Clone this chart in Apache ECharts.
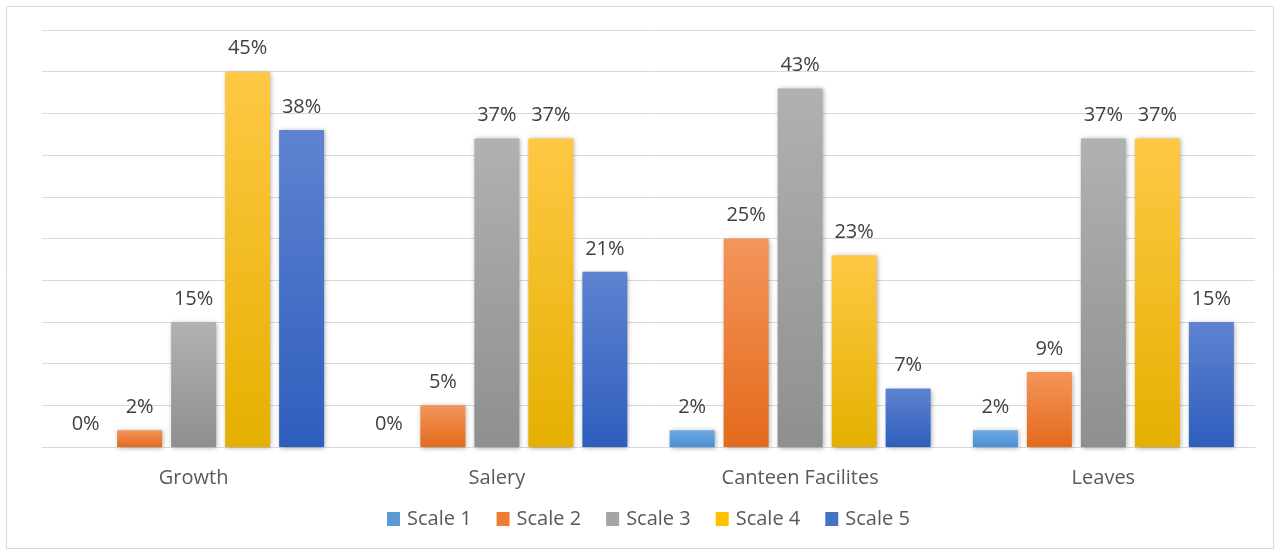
<!DOCTYPE html>
<html>
<head>
<meta charset="utf-8">
<style>
  html, body { margin: 0; padding: 0; background: #ffffff; }
  #chart { width: 1281px; height: 554px; }
</style>
<script src="https://cdn.jsdelivr.net/npm/echarts@6/dist/echarts.min.js"></script>
</head>
<body>
<div id="chart"></div>
<script>
// Survey categories and the share of answers on each scale (percent)
const categories = ['Growth', 'Salery', 'Canteen Facilites', 'Leaves'];
const seriesNames = ['Scale 1', 'Scale 2', 'Scale 3', 'Scale 4', 'Scale 5'];
const scale1 = [0, 0, 2, 2];
const scale2 = [2, 5, 25, 9];
const scale3 = [15, 37, 43, 37];
const scale4 = [45, 37, 23, 37];
const scale5 = [38, 21, 7, 15];
const seriesValues = [scale1, scale2, scale3, scale4, scale5];

// Top and bottom colours of each bar gradient
const gradientStops = [
  ['#6fa9e2', '#4a8ed6'],
  ['#f4955a', '#e36a1c'],
  ['#b1b1b1', '#8f8f8f'],
  ['#ffc845', '#e5b000'],
  ['#5e83d0', '#2e5ebd']
];
// Flat colours for the legend squares
const legendColors = ['#5b9bd5', '#ed7d31', '#a5a5a5', '#ffc000', '#4472c4'];

const fontFamily = '"Open Sans", "Noto Sans", sans-serif';

const chart = echarts.init(document.getElementById('chart'));

const series = seriesNames.map((name, i) => ({
  name: name,
  type: 'bar',
  data: seriesValues[i],
  barWidth: 45,
  barGap: '20%',
  itemStyle: {
    color: new echarts.graphic.LinearGradient(0, 0, 0, 1, [
      { offset: 0, color: gradientStops[i][0] },
      { offset: 1, color: gradientStops[i][1] }
    ]),
    shadowColor: 'rgba(0,0,0,0.35)',
    shadowBlur: 5,
    shadowOffsetX: 1,
    shadowOffsetY: 1
  },
  label: {
    show: true,
    position: 'top',
    distance: 13,
    formatter: '{c}%',
    color: '#404040',
    fontSize: 20,
    fontFamily: fontFamily
  },
  emphasis: { disabled: true }
}));

chart.setOption({
  animation: false,
  backgroundColor: '#ffffff',
  graphic: [{
    type: 'rect',
    shape: { x: 6.5, y: 6.5, width: 1267, height: 542 },
    style: { fill: 'none', stroke: '#d9d9d9', lineWidth: 1 },
    silent: true,
    z: -1
  }],
  grid: { left: 42, right: 26, top: 30, bottom: 107 },
  legend: {
    data: seriesNames.map((n, i) => ({ name: n, itemStyle: { color: legendColors[i] } })),
    bottom: 20,
    left: 382,
    icon: 'rect',
    itemWidth: 13,
    itemHeight: 14,
    itemGap: 25,
    textStyle: { color: '#595959', fontSize: 20, fontFamily: fontFamily, padding: [0, 0, 0, 2] }
  },
  xAxis: {
    type: 'category',
    data: categories,
    axisLine: { lineStyle: { color: '#d9d9d9', width: 1 } },
    axisTick: { show: false },
    axisLabel: { color: '#595959', fontSize: 20, fontFamily: fontFamily, margin: 21 }
  },
  yAxis: {
    type: 'value',
    min: 0,
    max: 50,
    interval: 5,
    axisLine: { show: false },
    axisTick: { show: false },
    axisLabel: { show: false },
    splitLine: { lineStyle: { color: '#d9d9d9', width: 1 } }
  },
  series: series
});
</script>
</body>
</html>
